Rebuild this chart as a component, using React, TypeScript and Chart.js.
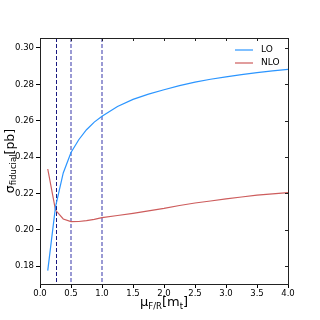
import React, { useEffect, useRef } from "react";
import { Chart, registerables } from "chart.js";

Chart.register(...registerables);

const muValues = [0.125, 0.25, 0.375, 0.5, 0.625, 0.75, 0.875, 1.0, 1.25, 1.5, 1.75, 2.0, 2.25, 2.5, 2.75, 3.0, 3.25, 3.5, 3.75, 4.0];
const loValues = [0.1775, 0.2125, 0.2312, 0.2425, 0.2495, 0.255, 0.2592, 0.2624, 0.2678, 0.2717, 0.2746, 0.277, 0.2793, 0.2812, 0.2828, 0.2841, 0.2853, 0.2864, 0.2874, 0.2882];
const nloValues = [0.2334, 0.2108, 0.2059, 0.2044, 0.2045, 0.205, 0.2057, 0.2066, 0.2078, 0.209, 0.2103, 0.2117, 0.2133, 0.2147, 0.2158, 0.217, 0.218, 0.219, 0.2197, 0.2204];
const seriesNames = ["LO", "NLO"];
const xTicks = [0, 0.5, 1.0, 1.5, 2.0, 2.5, 3.0, 3.5, 4.0];
const yTicks = [0.18, 0.2, 0.22, 0.24, 0.26, 0.28, 0.3];
const vlineThin = [0.25];
const vlineThick = [0.5, 1.0];

const FONT = "'DejaVu Sans', sans-serif";
const BLUE = "#2b95ff";
const RED = "#cd5c5c";

const overlay = {
  id: "overlay",
  beforeDatasetsDraw(chart: any) {
    const { ctx, chartArea, scales } = chart;
    const xs = scales.x;
    ctx.save();
    ctx.beginPath();
    ctx.rect(chartArea.left, chartArea.top, chartArea.right - chartArea.left, chartArea.bottom - chartArea.top);
    ctx.clip();
    const drawV = (v: number, color: string, w: number, dash: number[]) => {
      const px = Math.round(xs.getPixelForValue(v)) + (w % 2 ? 0.5 : 0);
      ctx.strokeStyle = color;
      ctx.lineWidth = w;
      ctx.setLineDash(dash);
      ctx.beginPath();
      ctx.moveTo(px, chartArea.top);
      ctx.lineTo(px, chartArea.bottom);
      ctx.stroke();
    };
    vlineThin.forEach((v) => drawV(v, "#1a1a80", 1, [4, 2]));
    vlineThick.forEach((v) => drawV(v, "#9a9ad4", 2, [4, 2]));
    ctx.restore();
  },
  afterDraw(chart: any) {
    const { ctx, chartArea, scales } = chart;
    const { left, right, top, bottom } = chartArea;
    ctx.save();
    ctx.setLineDash([]);
    ctx.strokeStyle = "#222";
    ctx.lineWidth = 1;
    ctx.strokeRect(Math.round(left) + 0.5, Math.round(top) + 0.5, Math.round(right - left), Math.round(bottom - top));
    // top & right inward ticks
    ctx.beginPath();
    xTicks.forEach((v) => {
      const px = Math.round(scales.x.getPixelForValue(v)) + 0.5;
      ctx.moveTo(px, top);
      ctx.lineTo(px, top + 3);
    });
    yTicks.forEach((v) => {
      const py = Math.round(scales.y.getPixelForValue(v)) + 0.5;
      ctx.moveTo(right, py);
      ctx.lineTo(right - 3, py);
    });
    ctx.stroke();

    // legend
    const colors = [BLUE, RED];
    ctx.font = `9px ${FONT}`;
    ctx.textBaseline = "middle";
    ctx.fillStyle = "#000";
    seriesNames.forEach((name, i) => {
      const y = 50 + i * 13;
      ctx.strokeStyle = colors[i];
      ctx.lineWidth = 1.2;
      ctx.beginPath();
      ctx.moveTo(235, y);
      ctx.lineTo(253, y);
      ctx.stroke();
      ctx.fillText(name, 261, y);
    });

    const measure = (parts: [string, boolean][], big: string, small: string) =>
      parts.reduce((s, [t, sub]) => {
        ctx.font = sub ? small : big;
        return s + ctx.measureText(t).width;
      }, 0);

    // x title: μ_{F/R}[m_t]
    const bigX = `13px ${FONT}`;
    const smallX = `8.5px ${FONT}`;
    const xParts: [string, boolean][] = [["μ", false], ["F/R", true], ["[m", false], ["t", true], ["]", false]];
    ctx.textBaseline = "alphabetic";
    ctx.textAlign = "left";
    let w = measure(xParts, bigX, smallX);
    let cx = (left + right) / 2 - w / 2;
    const by = 306;
    xParts.forEach(([t, sub]) => {
      ctx.font = sub ? smallX : bigX;
      ctx.fillText(t, cx, sub ? by + 3 : by);
      cx += ctx.measureText(t).width;
    });

    // y title: σ_fiducial[pb]
    const bigY = `12.5px ${FONT}`;
    const smallY = `8.5px ${FONT}`;
    const yParts: [string, boolean][] = [["σ", false], ["fiducial", true], ["[pb]", false]];
    w = measure(yParts, bigY, smallY);
    ctx.translate(14, (top + bottom) / 2);
    ctx.rotate(-Math.PI / 2);
    cx = -w / 2;
    yParts.forEach(([t, sub]) => {
      ctx.font = sub ? smallY : bigY;
      ctx.fillText(t, cx, sub ? 2 : 0);
      cx += ctx.measureText(t).width;
    });
    ctx.restore();
  },
};

export default function App() {
  const ref = useRef<HTMLCanvasElement | null>(null);
  useEffect(() => {
    if (!ref.current) return;
    const tickFont = { family: FONT, size: 8.5 };
    const chart = new Chart(ref.current, {
      type: "line",
      data: {
        datasets: [
          {
            label: seriesNames[0],
            data: muValues.map((x, i) => ({ x, y: loValues[i] })),
            borderColor: BLUE,
            borderWidth: 1.2,
            pointRadius: 0,
            tension: 0,
          },
          {
            label: seriesNames[1],
            data: muValues.map((x, i) => ({ x, y: nloValues[i] })),
            borderColor: RED,
            borderWidth: 1.2,
            pointRadius: 0,
            tension: 0,
          },
        ],
      },
      options: {
        responsive: false,
        animation: false,
        layout: { padding: { left: 0, top: 38, right: 32, bottom: 0 } },
        plugins: { legend: { display: false }, tooltip: { enabled: false } },
        scales: {
          x: {
            type: "linear",
            min: 0,
            max: 4,
            afterBuildTicks: (s: any) => {
              s.ticks = xTicks.map((v) => ({ value: v }));
            },
            afterFit: (s: any) => {
              s.height = 36;
            },
            ticks: {
              font: tickFont,
              color: "#000",
              padding: 1,
              maxRotation: 0,
              autoSkip: false,
              callback: (v: any) => Number(v).toFixed(1),
            },
            grid: { drawOnChartArea: false, drawTicks: true, tickLength: 4, color: "#000" },
            border: { display: true, color: "#222" },
          },
          y: {
            type: "linear",
            min: 0.1701,
            max: 0.3055,
            afterBuildTicks: (s: any) => {
              s.ticks = yTicks.map((v) => ({ value: v }));
            },
            afterFit: (s: any) => {
              s.width = 40;
            },
            ticks: {
              font: tickFont,
              color: "#000",
              padding: 2,
              autoSkip: false,
              callback: (v: any) => Number(v).toFixed(2),
            },
            grid: { drawOnChartArea: false, drawTicks: true, tickLength: 4, color: "#000" },
            border: { display: true, color: "#222" },
          },
        },
      },
      plugins: [overlay],
    } as any);
    return () => chart.destroy();
  }, []);
  return (
    <div style={{ position: "fixed", left: 0, top: 0, width: 320, height: 320, background: "#fff" }}>
      <canvas ref={ref} width={320} height={320} style={{ width: 320, height: 320 }} />
    </div>
  );
}
